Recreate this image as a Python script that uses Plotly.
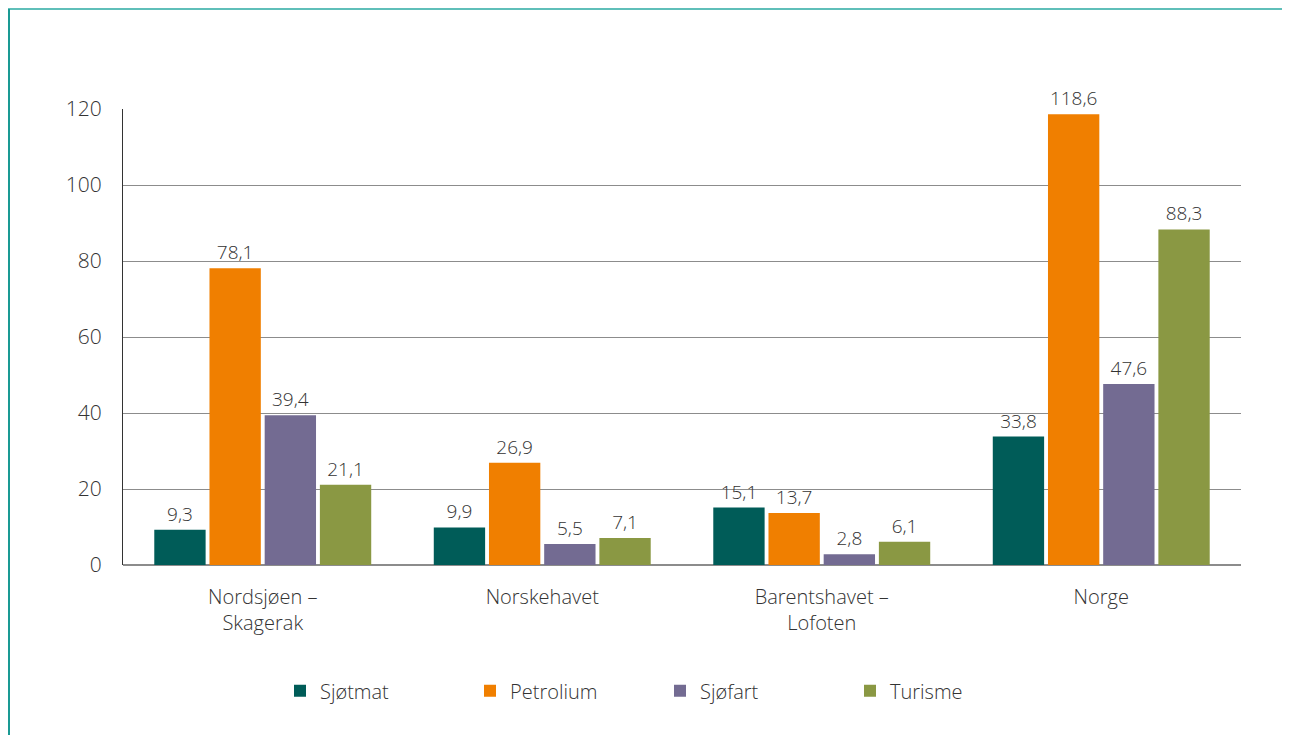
import plotly.graph_objects as go

categories = ["Nordsjøen –<br>Skagerak", "Norskehavet", "Barentshavet –<br>Lofoten", "Norge"]
series_names = ["Sjøtmat", "Petrolium", "Sjøfart", "Turisme"]
sjotmat = [9.3, 9.9, 15.1, 33.8]
petrolium = [78.1, 26.9, 13.7, 118.6]
sjofart = [39.4, 5.5, 2.8, 47.6]
turisme = [21.1, 7.1, 6.1, 88.3]
colors = ["#005c58", "#f07f00", "#736b92", "#8a9843"]
y_ticks = [0, 20, 40, 60, 80, 100, 120]

FONT = "Open Sans"
W = 1118
H = 456
L, T = 115, 101
fig = go.Figure()
for name, vals, col in zip(series_names, [sjotmat, petrolium, sjofart, turisme], colors):
    fig.add_trace(go.Bar(
        x=categories, y=vals, name=name, marker_color=col, marker_line_width=0,
        text=[f"{v:.1f}".replace(".", ",") for v in vals],
        textposition="outside", cliponaxis=False,
        textfont=dict(family=FONT, size=19, color="#333333", weight=300),
    ))

fig.update_layout(
    width=1290, height=735,
    paper_bgcolor="white", plot_bgcolor="white",
    margin=dict(l=L, r=1290 - L - W, t=T, b=735 - T - H),
    barmode="group", bargap=0.21, bargroupgap=0.07,
    font=dict(family=FONT, color="#333333", size=19, weight=300),
    showlegend=True,
    legend=dict(orientation="h", x=(272 - L) / W, xanchor="left", y=-0.276, yanchor="middle",
                font=dict(family=FONT, size=20, color="#333333", weight=300),
                entrywidth=145, itemwidth=30, traceorder="normal"),
    xaxis=dict(showline=False, ticks="", ticklabelstandoff=18,
               tickfont=dict(size=20, color="#333333", weight=300)),
    yaxis=dict(range=[0, 120], tickvals=y_ticks, showgrid=True, gridcolor="#8c8c8c", gridwidth=1,
               showline=True, linecolor="#333333", linewidth=1, zeroline=True, zerolinecolor="#8c8c8c",
               ticks="", ticklabelstandoff=16, tickfont=dict(size=21, color="#333333", weight=300)),
    shapes=[
        dict(type="line", xref="paper", yref="paper", x0=-L / W, x1=(1290 - L) / W,
             y0=1 + (T - 1) / H, y1=1 + (T - 1) / H, line=dict(color="#5fbfb9", width=2)),
        dict(type="line", xref="paper", yref="paper", x0=-(L - 1) / W, x1=-(L - 1) / W,
             y0=1 + (T - 1) / H, y1=-(735 - T - H) / H, line=dict(color="#1a9a94", width=2)),
    ],
)
fig.write_html("out.html")
